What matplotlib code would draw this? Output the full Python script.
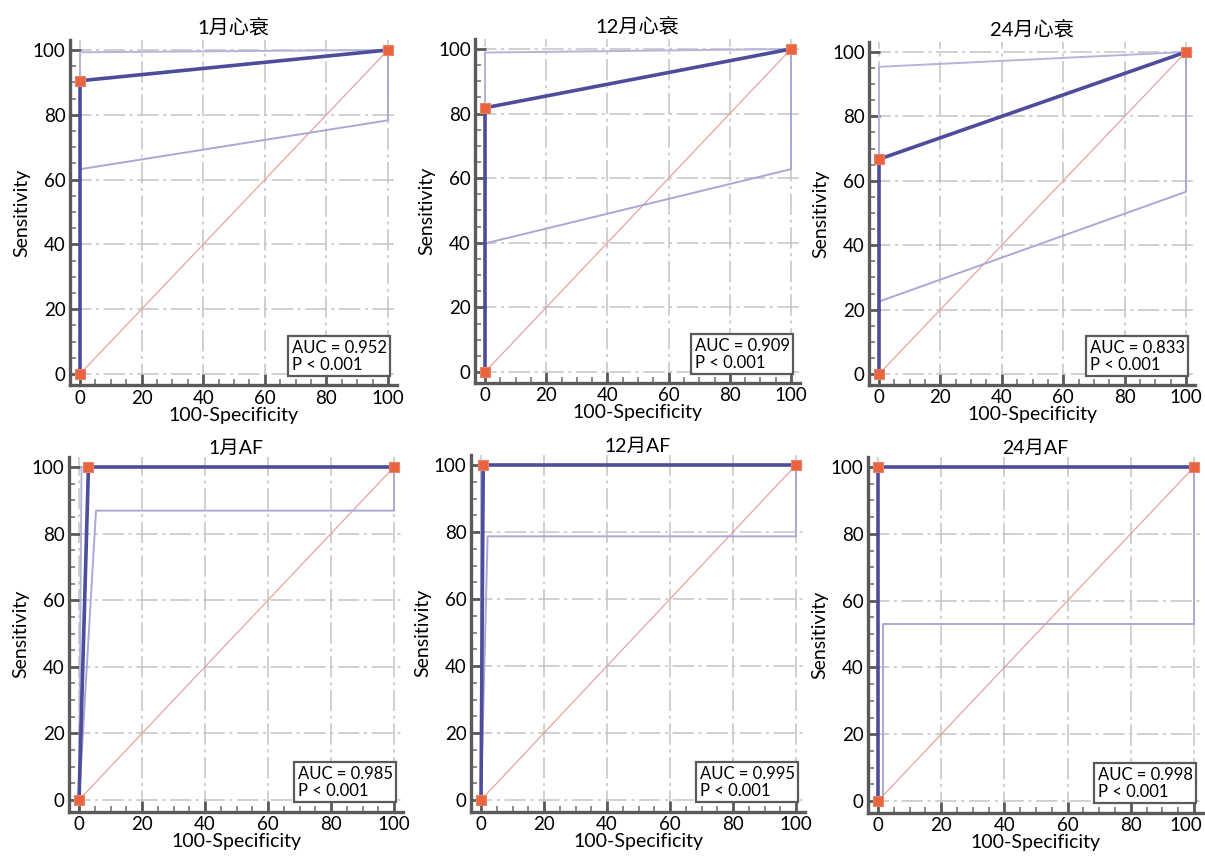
import matplotlib
matplotlib.use("Agg")
import matplotlib.pyplot as plt
import matplotlib.transforms as mtransforms
from matplotlib.ticker import MultipleLocator, FixedLocator

plt.rcParams['font.family'] = ['Lato', 'Noto Sans CJK SC', 'DejaVu Sans']

# panel titles and AUC annotations
titles = ['1月心衰', '12月心衰', '24月心衰', '1月AF', '12月AF', '24月AF']
auc_values = ['0.952', '0.909', '0.833', '0.985', '0.995', '0.998']
p_text = 'P < 0.001'
ticks = [0, 20, 40, 60, 80, 100]

# ROC curve (100-Specificity, Sensitivity)
roc_x = [[0, 0, 100], [0, 0, 100], [0, 0, 100],
         [0, 3, 100], [0, 0.7, 100], [0, 0, 100]]
roc_y = [[0, 90.5, 100], [0, 81.8, 100], [0, 66.7, 100],
         [0, 100, 100], [0, 100, 100], [0, 100, 100]]

# upper confidence bound
upper_x = [[0, 0, 100], [0, 0, 100], [0, 0, 100],
           [0, 0.8, 100], [0, 0, 100], [0, 0, 100]]
upper_y = [[0, 99.3, 100], [0, 98.9, 100], [0, 95.4, 100],
           [0, 100, 100], [0, 100, 100], [0, 100, 100]]

# lower confidence bound
lower_x = [[0, 0, 100, 100], [0, 0, 100, 100], [0, 0, 100, 100],
           [0, 5.4, 100, 100], [0, 2.1, 100, 100], [0, 1.5, 1.5, 100, 100]]
lower_y = [[0, 63.2, 78.3, 100], [0, 39.8, 62.8, 100], [0, 22.5, 56.6, 100],
           [0, 86.9, 86.9, 100], [0, 78.7, 78.7, 100], [0, 0, 53, 53, 100]]

# pixel positions of data 0 / 100 in each panel (x0, x100, y0, y100), y from top
panel_px = [(80, 388, 374, 50), (485, 791, 372, 49), (879, 1186, 374, 52),
            (79, 394, 800, 467), (481, 796, 800, 465), (878, 1194, 801, 467)]

W, H = 1205, 857
XMIN, XMAX = -3.3, 103
YMIN, YMAX = -3.5, 103

fig = plt.figure(figsize=(W / 100, H / 100), dpi=100)

for i in range(6):
    x0, x100, y0, y100 = panel_px[i]
    sx = (x100 - x0) / 100
    sy = (y0 - y100) / 100
    left = x0 + XMIN * sx
    right = x0 + XMAX * sx
    bottom = y0 - YMIN * sy
    top = y0 - YMAX * sy
    ax = fig.add_axes([left / W, 1 - bottom / H, (right - left) / W, (bottom - top) / H])

    ax.set_xlim(XMIN, XMAX)
    ax.set_ylim(YMIN, YMAX)

    ax.grid(True, color='#c4c4c4', lw=1.1, linestyle=(0, (14, 3, 2, 3)))
    ax.set_axisbelow(True)

    ax.plot([0, 100], [0, 100], color='#e9a3a0', lw=0.9, zorder=2)
    ax.plot(upper_x[i], upper_y[i], color='#b4b4dc', lw=1.4, zorder=3)
    ax.plot(lower_x[i], lower_y[i], color='#a9a9d6', lw=1.4, zorder=3)
    ax.plot(roc_x[i], roc_y[i], color='#4d4d9c', lw=2.6, zorder=4,
            marker='s', markersize=7, markerfacecolor='#ea6440',
            markeredgecolor='#e8836a', markeredgewidth=0.8)

    ax.text(99.6, 0.4, f'AUC = {auc_values[i]}\n{p_text}', ha='right', va='bottom',
            ma='left', fontsize=12, linespacing=1.05, zorder=6,
            bbox=dict(boxstyle='square,pad=0.22', fc='white', ec='#5a5a5a', lw=1.6))

    for side in ['top', 'right']:
        ax.spines[side].set_visible(False)
    for side in ['left', 'bottom']:
        ax.spines[side].set_color('#5a5a5a')
        ax.spines[side].set_linewidth(2.4)

    ax.xaxis.set_major_locator(FixedLocator(ticks))
    ax.yaxis.set_major_locator(FixedLocator(ticks))
    ax.xaxis.set_minor_locator(MultipleLocator(5))
    ax.yaxis.set_minor_locator(MultipleLocator(5))
    ax.tick_params(which='major', direction='in', length=8, width=2, color='#5a5a5a',
                   labelsize=13.5, pad=3)
    ax.tick_params(which='minor', direction='in', length=4, width=1.2, color='#777777')

    ax.set_xlabel('100-Specificity', fontsize=14, labelpad=0)
    ax.set_ylabel('Sensitivity', fontsize=14, labelpad=2)
    ax.set_title(titles[i], fontsize=14.5 if i < 3 else 14, pad=4 if i < 3 else 0)

    if i == 5:
        # the last "100" sits against the figure edge: right-align it, nudged 8 px right
        last = ax.xaxis.get_major_ticks()[-1]
        last.label1.set_horizontalalignment('right')
        last.label1.set_transform(last.label1.get_transform() +
                                  mtransforms.ScaledTranslation(8 / 100, 0, fig.dpi_scale_trans))

fig.savefig('out.png', dpi=100)
